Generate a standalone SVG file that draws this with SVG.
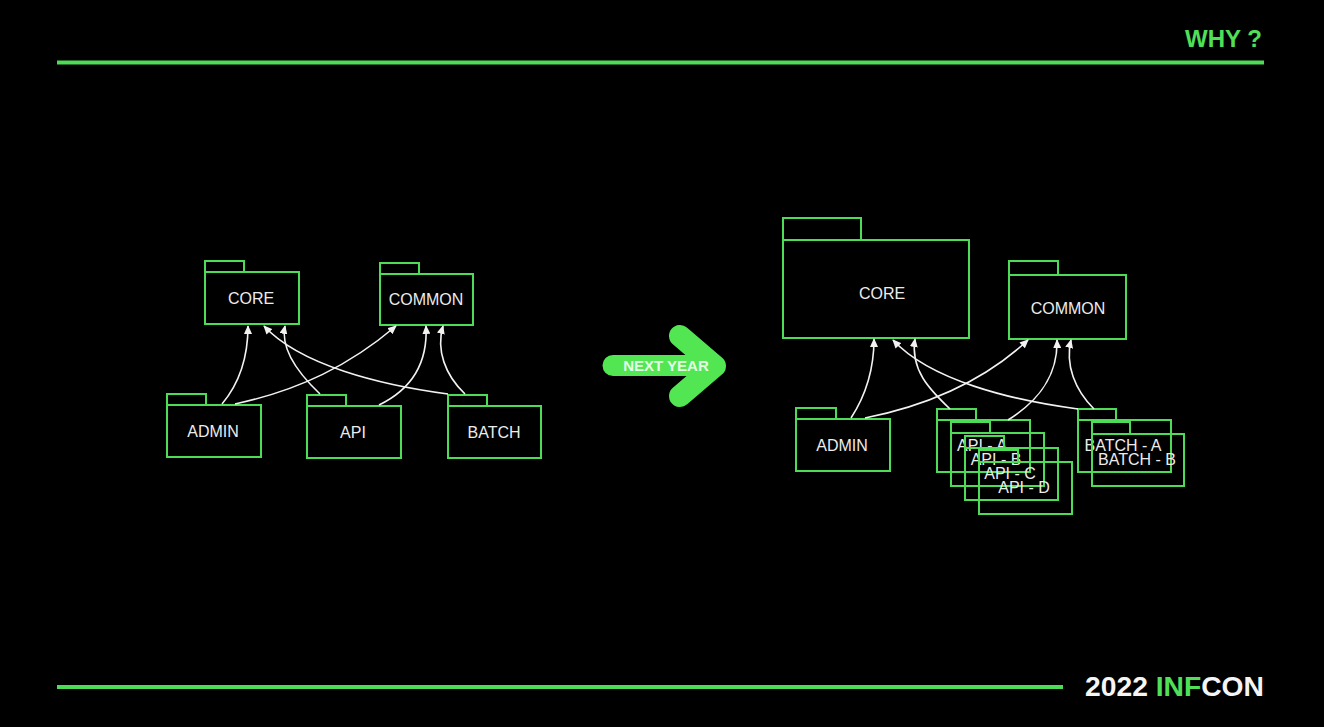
<svg xmlns="http://www.w3.org/2000/svg" width="1324" height="727" viewBox="0 0 1324 727">
<style>
.f{fill:none;stroke:#4ddc55;stroke-width:2}
.t{font-family:"Liberation Sans",Arial,sans-serif;font-size:16px;fill:#ececec;text-anchor:middle}
.c{fill:none;stroke:#f2f2f2;stroke-width:1.6;marker-end:url(#ah)}
.hd{font-family:"Liberation Sans",Arial,sans-serif;font-weight:bold}
</style>
<defs>
<marker id="ah" markerUnits="userSpaceOnUse" markerWidth="9" markerHeight="8" refX="8" refY="4" orient="auto">
<path d="M0,0 L9,4 L0,8 z" fill="#f2f2f2"/>
</marker>
</defs>
<rect width="1324" height="727" fill="#000"/>

<g id="header">
<text class="hd" x="1262" y="47" font-size="24" fill="#50e058" text-anchor="end">WHY ?</text>
<line x1="57" y1="62.5" x2="1264" y2="62.5" stroke="#4ddc55" stroke-width="4"/>
</g>
<g id="footer">
<line x1="57" y1="687" x2="1063" y2="687" stroke="#4ddc55" stroke-width="4"/>
<text class="hd" x="1085" y="696" font-size="27" fill="#f5f5f5" textLength="179" lengthAdjust="spacingAndGlyphs">2022 <tspan fill="#50e058">INF</tspan>CON</text>
</g>

<!-- Left diagram -->
<g id="l-core"><rect class="f" x="205" y="261" width="39" height="11"/><rect class="f" x="205" y="272" width="94" height="52"/><text class="t" x="251" y="304">CORE</text></g>
<g id="l-common"><rect class="f" x="380" y="263" width="39" height="11"/><rect class="f" x="380" y="274" width="93" height="51"/><text class="t" x="426" y="305">COMMON</text></g>
<g id="l-admin"><rect class="f" x="167" y="394" width="39" height="11"/><rect class="f" x="167" y="405" width="94" height="52"/><text class="t" x="213" y="437">ADMIN</text></g>
<g id="l-api"><rect class="f" x="307" y="395" width="39" height="11"/><rect class="f" x="307" y="406" width="94" height="52"/><text class="t" x="353" y="438">API</text></g>
<g id="l-batch"><rect class="f" x="448" y="395" width="39" height="11"/><rect class="f" x="448" y="406" width="93" height="52"/><text class="t" x="494" y="438">BATCH</text></g>

<g id="l-connectors">
<path class="c" d="M222,404 C238,385 248,360 248,326"/>
<path class="c" d="M235,404 C300,390 350,365 396,326"/>
<path class="c" d="M320,394 C300,375 280,350 285,326"/>
<path class="c" d="M379,405 C410,390 428,365 426,326"/>
<path class="c" d="M448,394 C380,385 300,365 264,326"/>
<path class="c" d="M465,394 C445,375 436,350 443,326"/>
</g>

<!-- Next year arrow -->
<g id="next-year">
<line x1="613" y1="365.5" x2="708" y2="365.5" stroke="#52e652" stroke-width="21" stroke-linecap="round"/>
<polyline points="680,336 715,366 680,396" fill="none" stroke="#52e652" stroke-width="22" stroke-linecap="round" stroke-linejoin="round"/>
<text class="hd" x="666" y="371" font-size="15" fill="#e4ffe4" text-anchor="middle">NEXT YEAR</text>
</g>

<!-- Right diagram -->
<g id="r-core"><rect class="f" x="783" y="218" width="78" height="22"/><rect class="f" x="783" y="240" width="186" height="98"/><text class="t" x="882" y="299">CORE</text></g>
<g id="r-common"><rect class="f" x="1009" y="261" width="49" height="14"/><rect class="f" x="1009" y="275" width="117" height="64"/><text class="t" x="1068" y="314">COMMON</text></g>
<g id="r-admin"><rect class="f" x="796" y="408" width="40" height="11"/><rect class="f" x="796" y="419" width="94" height="52"/><text class="t" x="842" y="451">ADMIN</text></g>
<g id="r-api-a"><rect class="f" x="937" y="409" width="39" height="11"/><rect class="f" x="937" y="420" width="93" height="52"/><text class="t" x="982" y="451">API - A</text></g>
<g id="r-api-b"><rect class="f" x="951" y="422" width="39" height="11"/><rect class="f" x="951" y="433" width="93" height="53"/><text class="t" x="996" y="465">API - B</text></g>
<g id="r-api-c"><rect class="f" x="965" y="436" width="39" height="12"/><rect class="f" x="965" y="448" width="93" height="52"/><text class="t" x="1010" y="479">API - C</text></g>
<g id="r-api-d"><rect class="f" x="979" y="450" width="39" height="12"/><rect class="f" x="979" y="462" width="93" height="52"/><text class="t" x="1024" y="493">API - D</text></g>
<g id="r-batch-a"><rect class="f" x="1078" y="409" width="38" height="11"/><rect class="f" x="1078" y="420" width="93" height="52"/><text class="t" x="1123" y="451">BATCH - A</text></g>
<g id="r-batch-b"><rect class="f" x="1092" y="422" width="38" height="12"/><rect class="f" x="1092" y="434" width="92" height="52"/><text class="t" x="1137" y="465">BATCH - B</text></g>

<g id="r-connectors">
<path class="c" d="M851,418 C866,395 874,370 874,339"/>
<path class="c" d="M865,418 C930,405 985,380 1028,340"/>
<path class="c" d="M950,409 C930,390 910,370 915,339"/>
<path class="c" d="M1008,420 C1040,400 1058,375 1057,340"/>
<path class="c" d="M1078,409 C1010,400 930,380 893,340"/>
<path class="c" d="M1094,409 C1075,390 1065,365 1071,340"/>
</g>
</svg>
